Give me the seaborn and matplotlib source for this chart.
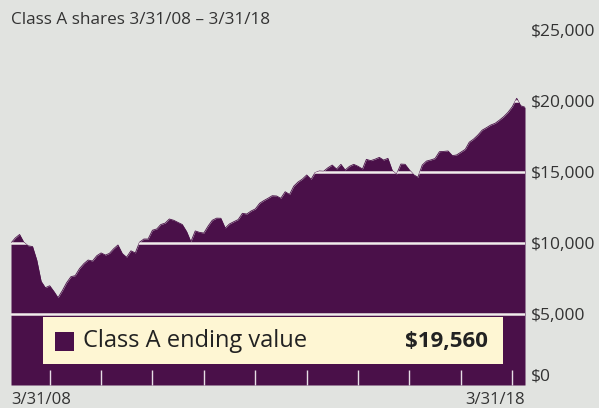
import matplotlib
matplotlib.use("Agg")
import matplotlib.pyplot as plt
import matplotlib.ticker as mticker
import matplotlib.dates as mdates
import pandas as pd
import seaborn as sns
from matplotlib.patches import Rectangle

# month-end values of a $10,000 investment
dates = pd.date_range("2008-03-31", periods=121, freq=pd.offsets.MonthEnd())
values = [
    10000, 10350, 10600, 10050, 9800, 9750, 8800, 7300, 6850, 6990,
    6570, 6150, 6650, 7200, 7630, 7700, 8200, 8550, 8800, 8730,
    9100, 9300, 9150, 9270, 9600, 9860, 9250, 9000, 9450, 9300,
    10050, 10280, 10280, 10900, 10990, 11300, 11400, 11690, 11600, 11450,
    11300, 10800, 10090, 10850, 10750, 10700, 11200, 11600, 11750, 11740,
    11050, 11340, 11500, 11650, 12090, 12040, 12250, 12400, 12800, 12980,
    13150, 13330, 13310, 13150, 13610, 13420, 14000, 14300, 14500, 14790,
    14485, 14950, 15070, 15050, 15300, 15490, 15210, 15540, 15140, 15400,
    15540, 15400, 15210, 15890, 15800, 15900, 16030, 15840, 15960, 15100,
    14840, 15560, 15540, 15140, 14800, 14630, 15490, 15770, 15850, 15950,
    16430, 16450, 16480, 16150, 16200, 16400, 16600, 17100, 17320, 17600,
    17950, 18120, 18310, 18430, 18650, 18900, 19200, 19600, 20190, 19670,
    19560,
]
y_ticks = [0, 5000, 10000, 15000, 20000, 25000]
grid_levels = [5000, 10000, 15000, 20000]
title = "Class A shares 3/31/08 \u2013 3/31/18"
x_labels = ["3/31/08", "3/31/18"]
legend_label = "Class A ending value"
ending_value = "$19,560"

df = pd.DataFrame({"date": dates, "value": values})

bg = "#e1e3e0"
purple = "#4a1049"
cream = "#fef6d3"
text_col = "#333333"

sns.set_style("white")
plt.rcParams["font.family"] = ["Open Sans", "DejaVu Sans"]

fig = plt.figure(figsize=(5.99, 4.08), dpi=100, facecolor=bg)
ax = fig.add_axes([11 / 599, 23 / 408, 514 / 599, 355 / 408])
ax.set_facecolor(bg)

sns.lineplot(data=df, x="date", y="value", ax=ax, color=purple, lw=0.6)
poly = ax.fill_between(df["date"], df["value"], color=purple, lw=0, zorder=1)

# white gridlines only show inside the filled area
clip = poly.get_paths()[0]
for lvl in grid_levels:
    ln = ax.axhline(lvl, color="#f1ecec", lw=1.8, zorder=2)
    ln.set_clip_path(clip, ax.transData)

ax.set_xlim(dates[0], dates[-1])
ax.set_ylim(0, 25000)
ax.set_xlabel("")
ax.set_ylabel("")
for s in ax.spines.values():
    s.set_visible(False)

ax.set_axisbelow(False)
ax.yaxis.tick_right()
ax.set_yticks(y_ticks)
ax.yaxis.set_major_formatter(mticker.FuncFormatter(lambda v, _: f"${v:,.0f}"))
ax.tick_params(axis="y", length=0, pad=4, labelsize=12.5, labelcolor=text_col)
ax.get_yticklabels()[0].set_va("bottom")

ax.set_xticks([dates[0], dates[-1]])
ax.set_xticklabels(x_labels)
ax.xaxis.set_minor_locator(mdates.MonthLocator(bymonth=12, bymonthday=31))
ax.tick_params(axis="x", which="major", length=0, pad=5, labelsize=12, labelcolor=text_col)
ax.tick_params(axis="x", which="minor", bottom=True, direction="in", length=11,
               width=1, color="#e6dde6")
xl = ax.get_xticklabels()
xl[0].set_ha("left")
xl[1].set_ha("right")

fig.text(11 / 599, 1 - 20 / 408, title, ha="left", va="center",
         fontsize=12.3, color=text_col)

# legend box
ax.add_patch(Rectangle((0.0623, 0.0592), 0.8949, 0.1324, transform=ax.transAxes,
                       facecolor=cream, edgecolor="none", zorder=5))
ax.add_patch(Rectangle((0.0856, 0.0958), 0.037, 0.0535, transform=ax.transAxes,
                       facecolor=purple, edgecolor="none", zorder=6))
ax.text(0.140, 0.123, legend_label, transform=ax.transAxes, ha="left", va="center",
        fontsize=17, color="#222222", zorder=7)
ax.text(0.928, 0.123, ending_value, transform=ax.transAxes, ha="right", va="center",
        fontsize=16, fontweight="bold", color="#222222", zorder=7)

fig.savefig("out.png", dpi=100, facecolor=bg)
